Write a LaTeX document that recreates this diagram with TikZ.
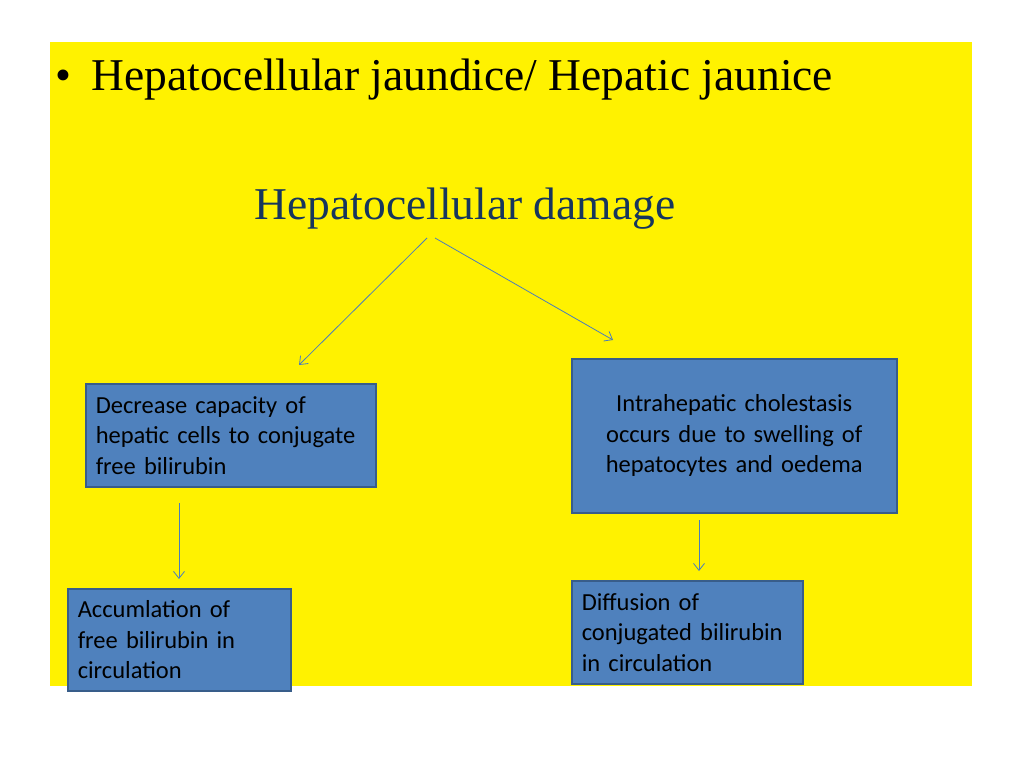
\documentclass[tikz,border=0pt]{standalone}
\usepackage{fontspec}
\setmainfont{Liberation Serif}
\newfontfamily\boxfont{Carlito}
\usetikzlibrary{positioning, arrows.meta}
\definecolor{boxblue}{HTML}{4F81BD}
\definecolor{boxedge}{HTML}{385D8A}
\definecolor{linkblue}{HTML}{4A7EBB}
\definecolor{headnavy}{HTML}{17365D}
\tikzset{
  cause/.style={rectangle, draw=boxedge, line width=1.5pt, fill=boxblue, inner sep=10pt,
    font=\boxfont\fontsize{24.5}{30.5}\selectfont, anchor=north west},
  link/.style={draw=linkblue, line width=0.8pt, -{Straight Barb[length=7pt,width=11pt]}},
}
\begin{document}
\begin{tikzpicture}[x=1pt, y=-1pt]
\useasboundingbox (0,0) rectangle (1024,768);
\fill[yellow] (50,42) rectangle (972,686);
\node (title) [anchor=west, font=\fontsize{45.5}{52}\selectfont] at (52,80) {\textbullet\hspace{20pt}Hepatocellular jaundice/ Hepatic jaunice};
\node (damage) [font=\fontsize{45.5}{52}\selectfont, text=headnavy] at (465,209) {Hepatocellular damage};
% first level
\node (capacity) [cause, minimum width=290pt, minimum height=103pt, text width=270pt, align=left] at (85,383)
  {Decrease capacity of\\hepatic cells to conjugate\\free bilirubin};
\node (cholestasis) [cause, minimum width=325pt, minimum height=154pt, text width=305pt, align=center, yshift=-2pt] at (571,356)
  {Intrahepatic cholestasis\\occurs due to swelling of\\hepatocytes and oedema};
% second level
\node (accum) [cause, minimum width=223pt, minimum height=102pt, text width=203pt, align=left] at (67,588)
  {Accumlation of\\free bilirubin in\\circulation};
\node (diffusion) [cause, minimum width=231pt, minimum height=103pt, text width=211pt, align=left] at (571,580)
  {Diffusion of\\conjugated bilirubin\\in circulation};
\coordinate (splitl) at (427,238);
\coordinate (splitr) at (435,238);
\coordinate (endl) at (299,365);
\coordinate (endr) at (613,340);
\coordinate (capbot) at (179,503);
\coordinate (accumtop) at (179,579);
\coordinate (chobot) at (699,520);
\coordinate (difftop) at (699,571);
\draw [link] (splitl) -- (endl);
\draw [link] (splitr) -- (endr);
\draw [link] (capbot) -- (accumtop);
\draw [link] (chobot) -- (difftop);
\end{tikzpicture}
\end{document}
